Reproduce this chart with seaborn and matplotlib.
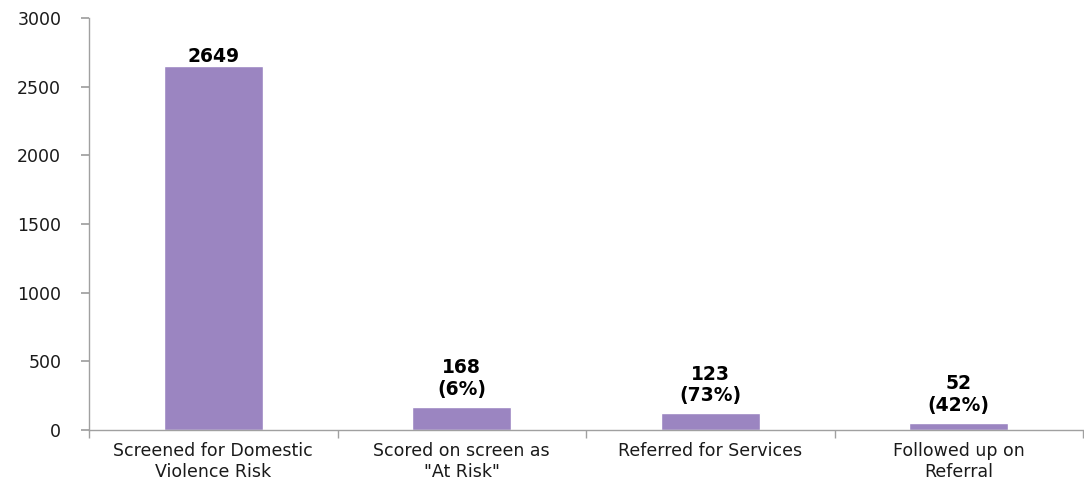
import matplotlib
matplotlib.use("Agg")
import matplotlib.pyplot as plt
import seaborn as sns
import pandas as pd

categories = ["Screened for Domestic\nViolence Risk", "Scored on screen as\n\"At Risk\"",
              "Referred for Services", "Followed up on\nReferral"]
values = [2649, 168, 123, 52]
bar_labels = ["2649", "168\n(6%)", "123\n(73%)", "52\n(42%)"]
y_ticks = [0, 500, 1000, 1500, 2000, 2500, 3000]

sns.set_theme(style="white")
plt.rcParams['font.family'] = ['DejaVu Sans']

df = pd.DataFrame({"cat": categories, "val": values})

fig = plt.figure(figsize=(10.84, 4.83), dpi=100)
ax = fig.add_axes([89/1084, 1-430/483, (1083-89)/1084, (430-18)/483])
sns.barplot(data=df, x="cat", y="val", color="#9B85C1", saturation=1, width=0.4, ax=ax)

ax.set_ylim(0, 3000)
ax.set_xlim(-0.5, 3.5)
ax.set_yticks(y_ticks)
ax.set_xlabel("")
ax.set_ylabel("")
ax.set_xticks([0, 1, 2, 3])
ax.set_xticklabels(categories, fontsize=12.5, color="#1a1a1a", linespacing=1.15)
ax.tick_params(axis="x", length=0, pad=9)
ax.tick_params(axis="y", labelsize=12.5, labelcolor="#1a1a1a", length=6, color="#a0a0a0",
               left=True, direction="out", pad=14)
# minor ticks at category boundaries
ax.set_xticks([-0.5, 0.5, 1.5, 2.5, 3.5], minor=True)
ax.tick_params(axis="x", which="minor", length=6, color="#a0a0a0", bottom=True, direction="out")

for s in ["top", "right"]:
    ax.spines[s].set_visible(False)
for s in ["left", "bottom"]:
    ax.spines[s].set_color("#a0a0a0")
    ax.spines[s].set_linewidth(1)

for i, (v, lab) in enumerate(zip(values, bar_labels)):
    ax.annotate(lab, (i, v), xytext=(0, 0 if "\n" not in lab else 6), textcoords="offset points",
                ha="center", va="bottom", fontsize=13.5, fontweight="bold", color="black",
                linespacing=1.15)

fig.savefig("out.png", dpi=100)
